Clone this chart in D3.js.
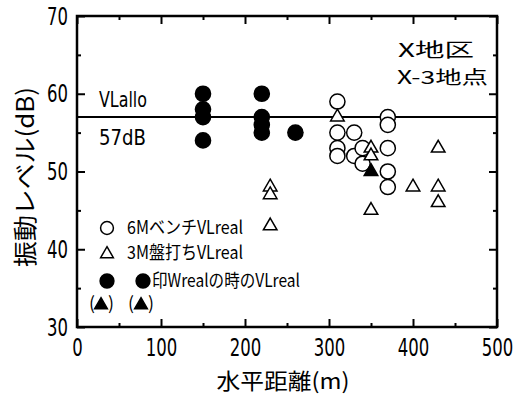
<!DOCTYPE html>
<html>
<head>
<meta charset="utf-8">
<script src="https://cdn.jsdelivr.net/npm/d3@7"></script>
<style>
  body { margin: 0; background: #fff; }
  .narrow { font-family: "Liberation Sans Narrow", "DejaVu Sans Condensed", "Arial Narrow", "Liberation Sans", sans-serif; font-stretch: condensed; }
  .jp { font-family: "Noto Sans CJK JP", "Liberation Sans", sans-serif; }
</style>
</head>
<body>
<div id="chart"></div>
<script>
// Data (horizontal distance m, vibration level dB)
const benchDist = [310, 310, 310, 310, 330, 330, 340, 340, 370, 370, 370, 370, 370];
const benchLevel = [59, 55, 53, 52, 55, 52, 53, 51, 57, 56, 53, 50, 48];
const banuchiDist = [230, 230, 230, 310, 350, 350, 350, 400, 430, 430, 430];
const banuchiLevel = [48, 47, 43, 57, 53, 52, 45, 48, 53, 48, 46];
const wrealCircleDist = [150, 150, 150, 150, 220, 220, 220, 220, 260];
const wrealCircleLevel = [60, 58, 57, 54, 60, 57, 56, 55, 55];
const wrealTriDist = [350];
const wrealTriLevel = [50];
const vlAllo = 57;
const xTicks = [0, 100, 200, 300, 400, 500];
const yTicks = [30, 40, 50, 60, 70];

function draw() {
    let dimensions = {
        width: 527,
        height: 394,
        margin: { top: 16, bottom: 67, left: 77, right: 30 },
    }
    dimensions.ctnrWidth = dimensions.width - dimensions.margin.left - dimensions.margin.right
    dimensions.ctnrHeight = dimensions.height - dimensions.margin.top - dimensions.margin.bottom

    const svg = d3.select("#chart")
        .append("svg")
        .attr("width", dimensions.width)
        .attr("height", dimensions.height)

    const ctnr = svg.append("g")
        .attr("transform", `translate(${dimensions.margin.left}, ${dimensions.margin.top})`)

    const xScale = d3.scaleLinear()
        .domain([0, 500])
        .range([0, dimensions.ctnrWidth])

    const yScale = d3.scaleLinear()
        .domain([30, 70])
        .range([dimensions.ctnrHeight, 0])

    // Axes: major + minor ticks pointing inward on all four sides
    const minorX = d3.range(50, 500, 100)
    const minorY = d3.range(35, 70, 10)

    const styleAxis = (g) => {
        g.select(".domain").remove()
        g.selectAll("line").attr("stroke", "#000").attr("stroke-width", 2)
    }
    // condensed look for the digits
    const styleLabels = (g) => {
        g.selectAll("text")
            .attr("class", "narrow")
            .attr("font-size", 25)
            .attr("fill", "#000")
            .attr("textLength", (d) => String(d).length * 10.5)
            .attr("lengthAdjust", "spacingAndGlyphs")
    }

    ctnr.append("g")
        .attr("transform", `translate(0, ${dimensions.ctnrHeight})`)
        .call(d3.axisBottom(xScale).tickValues(xTicks).tickSizeInner(-8).tickPadding(11))
        .call(styleAxis)
        .call(styleLabels)

    ctnr.append("g")
        .attr("transform", `translate(0, ${dimensions.ctnrHeight})`)
        .call(d3.axisBottom(xScale).tickValues(minorX).tickSizeInner(-4).tickFormat(""))
        .call(styleAxis)

    ctnr.append("g")
        .call(d3.axisTop(xScale).tickValues(xTicks).tickSizeInner(-8).tickFormat(""))
        .call(styleAxis)
    ctnr.append("g")
        .call(d3.axisTop(xScale).tickValues(minorX).tickSizeInner(-4).tickFormat(""))
        .call(styleAxis)

    ctnr.append("g")
        .call(d3.axisLeft(yScale).tickValues(yTicks).tickSizeInner(-8).tickPadding(9))
        .call(styleAxis)
        .call(styleLabels)

    ctnr.append("g")
        .call(d3.axisLeft(yScale).tickValues(minorY).tickSizeInner(-4).tickFormat(""))
        .call(styleAxis)

    ctnr.append("g")
        .attr("transform", `translate(${dimensions.ctnrWidth}, 0)`)
        .call(d3.axisRight(yScale).tickValues(yTicks).tickSizeInner(-8).tickFormat(""))
        .call(styleAxis)
    ctnr.append("g")
        .attr("transform", `translate(${dimensions.ctnrWidth}, 0)`)
        .call(d3.axisRight(yScale).tickValues(minorY).tickSizeInner(-4).tickFormat(""))
        .call(styleAxis)

    // Frame
    ctnr.append("rect")
        .attr("width", dimensions.ctnrWidth)
        .attr("height", dimensions.ctnrHeight)
        .attr("fill", "none")
        .attr("stroke", "#000")
        .attr("stroke-width", 2.5)

    // VLallo line
    ctnr.append("line")
        .attr("x1", 0)
        .attr("x2", dimensions.ctnrWidth)
        .attr("y1", yScale(vlAllo))
        .attr("y2", yScale(vlAllo))
        .attr("stroke", "#000")
        .attr("stroke-width", 2)

    ctnr.append("text")
        .attr("class", "narrow")
        .attr("x", 22)
        .attr("y", yScale(vlAllo) - 10)
        .attr("font-size", 21)
        .attr("textLength", 48)
        .attr("lengthAdjust", "spacingAndGlyphs")
        .text("VLallo")
    ctnr.append("text")
        .attr("class", "narrow")
        .attr("x", 22)
        .attr("y", yScale(vlAllo) + 28)
        .attr("font-size", 21)
        .attr("textLength", 47)
        .attr("lengthAdjust", "spacingAndGlyphs")
        .text("57dB")

    // Markers
    const circleSym = d3.symbol(d3.symbolCircle, 180)
    const triSym = d3.symbol(d3.symbolTriangle, 80)

    const plotSeries = (xs, ys, sym, filled) => {
        ctnr.append("g")
            .selectAll("path")
            .data(xs.map((x, i) => [x, ys[i]]))
            .join("path")
            .attr("d", sym)
            .attr("transform", (d) => `translate(${xScale(d[0])}, ${yScale(d[1])})`)
            .attr("fill", filled ? "#000" : "#fff")
            .attr("stroke", "#000")
            .attr("stroke-width", 1.5)
    }
    plotSeries(wrealCircleDist, wrealCircleLevel, circleSym, true)
    plotSeries(benchDist, benchLevel, circleSym, false)
    plotSeries(banuchiDist, banuchiLevel, triSym, false)
    plotSeries(wrealTriDist, wrealTriLevel, triSym, true)

    // Site label
    svg.append("text")
        .attr("class", "jp")
        .attr("x", 398)
        .attr("y", 57)
        .attr("font-size", 19)
        .attr("textLength", 76)
        .attr("lengthAdjust", "spacingAndGlyphs")
        .text("X地区")
    svg.append("text")
        .attr("class", "jp")
        .attr("x", 397)
        .attr("y", 84)
        .attr("font-size", 18)
        .attr("textLength", 91)
        .attr("lengthAdjust", "spacingAndGlyphs")
        .text("X-3地点")

    // Legend
    const legend = svg.append("g")
    const legendSym = (x, y, sym, filled) => {
        legend.append("path")
            .attr("d", sym)
            .attr("transform", `translate(${x}, ${y})`)
            .attr("fill", filled ? "#000" : "#fff")
            .attr("stroke", "#000")
            .attr("stroke-width", 1.5)
    }
    const legendText = (x, y, txt, len) => {
        legend.append("text")
            .attr("class", "jp")
            .attr("x", x)
            .attr("y", y)
            .attr("dy", "0.36em")
            .attr("font-size", 18)
            .attr("textLength", len)
            .attr("lengthAdjust", "spacingAndGlyphs")
            .text(txt)
    }
    legendSym(107, 228, d3.symbol(d3.symbolCircle, 130), false)
    legendText(127, 228, "6MベンチVLreal", 116)
    legendSym(107, 254, d3.symbol(d3.symbolTriangle, 70), false)
    legendText(127, 253, "3M盤打ちVLreal", 116)
    legendSym(107, 281, d3.symbol(d3.symbolCircle, 150), true)
    legendSym(143, 281, d3.symbol(d3.symbolCircle, 150), true)
    legendText(152, 281, "印Wrealの時のVLreal", 148)
    legendText(89, 304, "(", 6)
    legendSym(101, 305, d3.symbol(d3.symbolTriangle, 70), true)
    legendText(108, 304, ")", 6)
    legendText(128, 304, "(", 6)
    legendSym(141, 305, d3.symbol(d3.symbolTriangle, 70), true)
    legendText(148, 304, ")", 6)

    // Axis titles
    svg.append("text")
        .attr("class", "jp")
        .attr("x", 283)
        .attr("y", 389)
        .attr("text-anchor", "middle")
        .attr("font-size", 22)
        .attr("textLength", 133)
        .attr("lengthAdjust", "spacingAndGlyphs")
        .text("水平距離(m)")

    svg.append("text")
        .attr("class", "jp")
        .attr("transform", "translate(34, 177) rotate(-90)")
        .attr("text-anchor", "middle")
        .attr("font-size", 24)
        .attr("textLength", 180)
        .attr("lengthAdjust", "spacingAndGlyphs")
        .text("振動レベル(dB)")
}

draw();
</script>
</body>
</html>
